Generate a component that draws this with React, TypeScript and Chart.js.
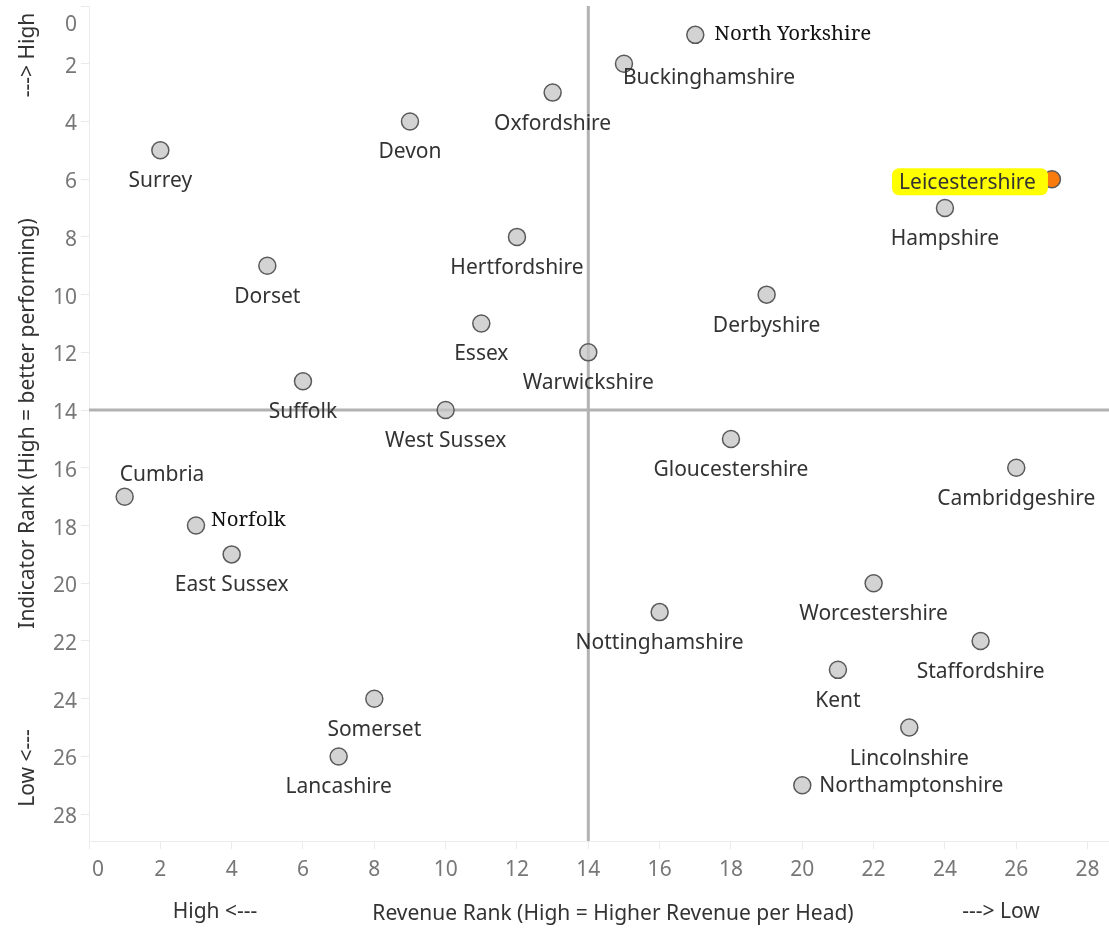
import React, { useEffect, useRef } from "react";
import { Chart, registerables } from "chart.js";

Chart.register(...registerables);

const counties = [
  "North Yorkshire", "Buckinghamshire", "Oxfordshire", "Devon", "Surrey",
  "Leicestershire", "Hampshire", "Hertfordshire", "Dorset", "Derbyshire",
  "Essex", "Warwickshire", "Suffolk", "West Sussex", "Gloucestershire",
  "Cambridgeshire", "Cumbria", "Norfolk", "East Sussex", "Worcestershire",
  "Nottinghamshire", "Staffordshire", "Kent", "Somerset", "Lincolnshire",
  "Lancashire", "Northamptonshire",
];
const revenueRank = [17, 15, 13, 9, 2, 27, 24, 12, 5, 19, 11, 14, 6, 10, 18, 26, 1, 3, 4, 22, 16, 25, 21, 8, 23, 7, 20];
const indicatorRank = [1, 2, 3, 4, 5, 6, 7, 8, 9, 10, 11, 12, 13, 14, 15, 16, 17, 18, 19, 20, 21, 22, 23, 24, 25, 26, 27];
const highlighted = "Leicestershire";
const xTicks = [0, 2, 4, 6, 8, 10, 12, 14, 16, 18, 20, 22, 24, 26, 28];
const yTicks = [0, 2, 4, 6, 8, 10, 12, 14, 16, 18, 20, 22, 24, 26, 28];
const refRevenue = 14;
const refIndicator = 14;
const xTitle = "Revenue Rank (High = Higher Revenue per Head)";
const yTitle = "Indicator Rank (High = better performing)";
const xLowNote = "High <---";
const xHighNote = "---> Low";
const yTopNote = "---> High";
const yBottomNote = "Low <---";

// label placement (style only): align, pixel offsets, font variant
type Place = { align: CanvasTextAlign; dx: number; dy: number; serif?: boolean };
const defaultPlace: Place = { align: "center", dx: 0, dy: 31 };
const labelPlacement: Record<string, Place> = {
  "North Yorkshire": { align: "left", dx: 19, dy: -1, serif: true },
  Buckinghamshire: { align: "left", dx: -1, dy: 14 },
  Leicestershire: { align: "right", dx: -16, dy: 4 },
  Cumbria: { align: "left", dx: -5, dy: -22 },
  Norfolk: { align: "left", dx: 15, dy: -5, serif: true },
  Northamptonshire: { align: "left", dx: 17, dy: 1 },
};

const SANS = '"Noto Sans", "DejaVu Sans", sans-serif';
const SERIF = '"Noto Serif", "DejaVu Serif", serif';

const overlayPlugin = {
  id: "overlay",
  beforeDatasetsDraw(chart: any) {
    const { ctx, chartArea, scales } = chart;
    const x = scales.x.getPixelForValue(refRevenue);
    const y = scales.y.getPixelForValue(refIndicator);
    ctx.save();
    ctx.strokeStyle = "#b2b2b2";
    ctx.lineWidth = 3;
    ctx.beginPath();
    ctx.moveTo(x, chartArea.top);
    ctx.lineTo(x, chartArea.bottom);
    ctx.moveTo(chartArea.left, y);
    ctx.lineTo(chartArea.right, y);
    ctx.stroke();
    ctx.restore();
  },
  afterDatasetsDraw(chart: any) {
    const { ctx } = chart;
    const meta = chart.getDatasetMeta(0);
    ctx.save();
    ctx.textBaseline = "middle";
    counties.forEach((name, i) => {
      const el = meta.data[i];
      if (!el) return;
      const p = labelPlacement[name] || defaultPlace;
      const tx = el.x + p.dx;
      const ty = el.y + p.dy;
      ctx.font = p.serif ? `20.5px ${SERIF}` : `21px ${SANS}`;
      ctx.textAlign = p.align;
      if (name === highlighted) {
        const w = ctx.measureText(name).width;
        const left = p.align === "right" ? tx - w : p.align === "center" ? tx - w / 2 : tx;
        const right = left + w;
        ctx.fillStyle = "#ffff00";
        ctx.beginPath();
        (ctx as any).roundRect(left - 7, ty - 15, right - left + 19, 27, 7);
        ctx.fill();
      }
      ctx.fillStyle = p.serif ? "#111111" : "#333333";
      ctx.fillText(name, tx, ty);
    });
    ctx.restore();
  },
  afterDraw(chart: any) {
    const { ctx, scales, chartArea } = chart;
    ctx.save();
    ctx.fillStyle = "#777777";
    ctx.font = `21px ${SANS}`;
    ctx.textBaseline = "middle";
    ctx.textAlign = "right";
    yTicks.forEach((v, i) => {
      const py = scales.y.getPixelForValue(v);
      ctx.fillText(String(v), 77, i === 0 ? py + 19 : py + 3);
    });
    ctx.textAlign = "center";
    xTicks.forEach((v, i) => {
      const px = scales.x.getPixelForValue(v);
      ctx.fillText(String(v), i === 0 ? px + 9 : px, 870);
    });
    ctx.fillStyle = "#333333";
    ctx.font = `21px ${SANS}`;
    ctx.fillText(xTitle, 613, 914);
    ctx.fillText(xLowNote, 215, 912);
    ctx.fillText(xHighNote, 1001, 912);
    ctx.translate(28, (chartArea.top + chartArea.bottom) / 2);
    ctx.rotate(-Math.PI / 2);
    ctx.fillText(yTitle, 0, 0);
    ctx.restore();
    [
      [yTopNote, 55],
      [yBottomNote, 768],
    ].forEach(([txt, cy]) => {
      ctx.save();
      ctx.fillStyle = "#333333";
      ctx.font = `21px ${SANS}`;
      ctx.textAlign = "center";
      ctx.textBaseline = "middle";
      ctx.translate(28, cy as number);
      ctx.rotate(-Math.PI / 2);
      ctx.fillText(txt as string, 0, 0);
      ctx.restore();
    });
  },
};

export default function App() {
  const ref = useRef<HTMLCanvasElement | null>(null);
  useEffect(() => {
    if (!ref.current) return;
    const points = counties.map((_, i) => ({ x: revenueRank[i], y: indicatorRank[i] }));
    const chart = new Chart(ref.current, {
      type: "scatter",
      data: {
        datasets: [
          {
            label: "Counties",
            data: points,
            pointRadius: 8.5,
            pointHoverRadius: 8.5,
            pointBorderWidth: 1.5,
            pointBackgroundColor: counties.map((c) => (c === highlighted ? "#f97b0e" : "rgba(196,196,196,0.75)")),
            pointBorderColor: "#5a5a5a",
          },
        ],
      },
      options: {
        animation: false,
        responsive: true,
        maintainAspectRatio: false,
        layout: { autoPadding: false, padding: { top: 6, left: 0, right: 0, bottom: 0 } },
        plugins: { legend: { display: false }, tooltip: { enabled: false } },
        scales: {
          x: {
            type: "linear",
            min: 0,
            max: 28.6,
            afterBuildTicks: (s: any) => {
              s.ticks = xTicks.map((v) => ({ value: v }));
            },
            afterFit: (s: any) => {
              s.height = 87;
            },
            ticks: { display: false },
            grid: { display: true, drawOnChartArea: false, drawTicks: true, tickLength: 8, color: "#ebebeb" },
            border: { display: true, color: "#ebebeb" },
          },
          y: {
            type: "linear",
            reverse: true,
            min: 0,
            max: 28.93,
            afterBuildTicks: (s: any) => {
              s.ticks = yTicks.map((v) => ({ value: v }));
            },
            afterFit: (s: any) => {
              s.width = 89;
            },
            ticks: { display: false },
            grid: { display: true, drawOnChartArea: false, drawTicks: true, tickLength: 8, color: "#ebebeb" },
            border: { display: true, color: "#ebebeb" },
          },
        },
      },
      plugins: [overlayPlugin],
    });
    return () => chart.destroy();
  }, []);
  return (
    <div style={{ position: "absolute", left: 0, top: 0, width: 1109, height: 928 }}>
      <canvas ref={ref} />
    </div>
  );
}
